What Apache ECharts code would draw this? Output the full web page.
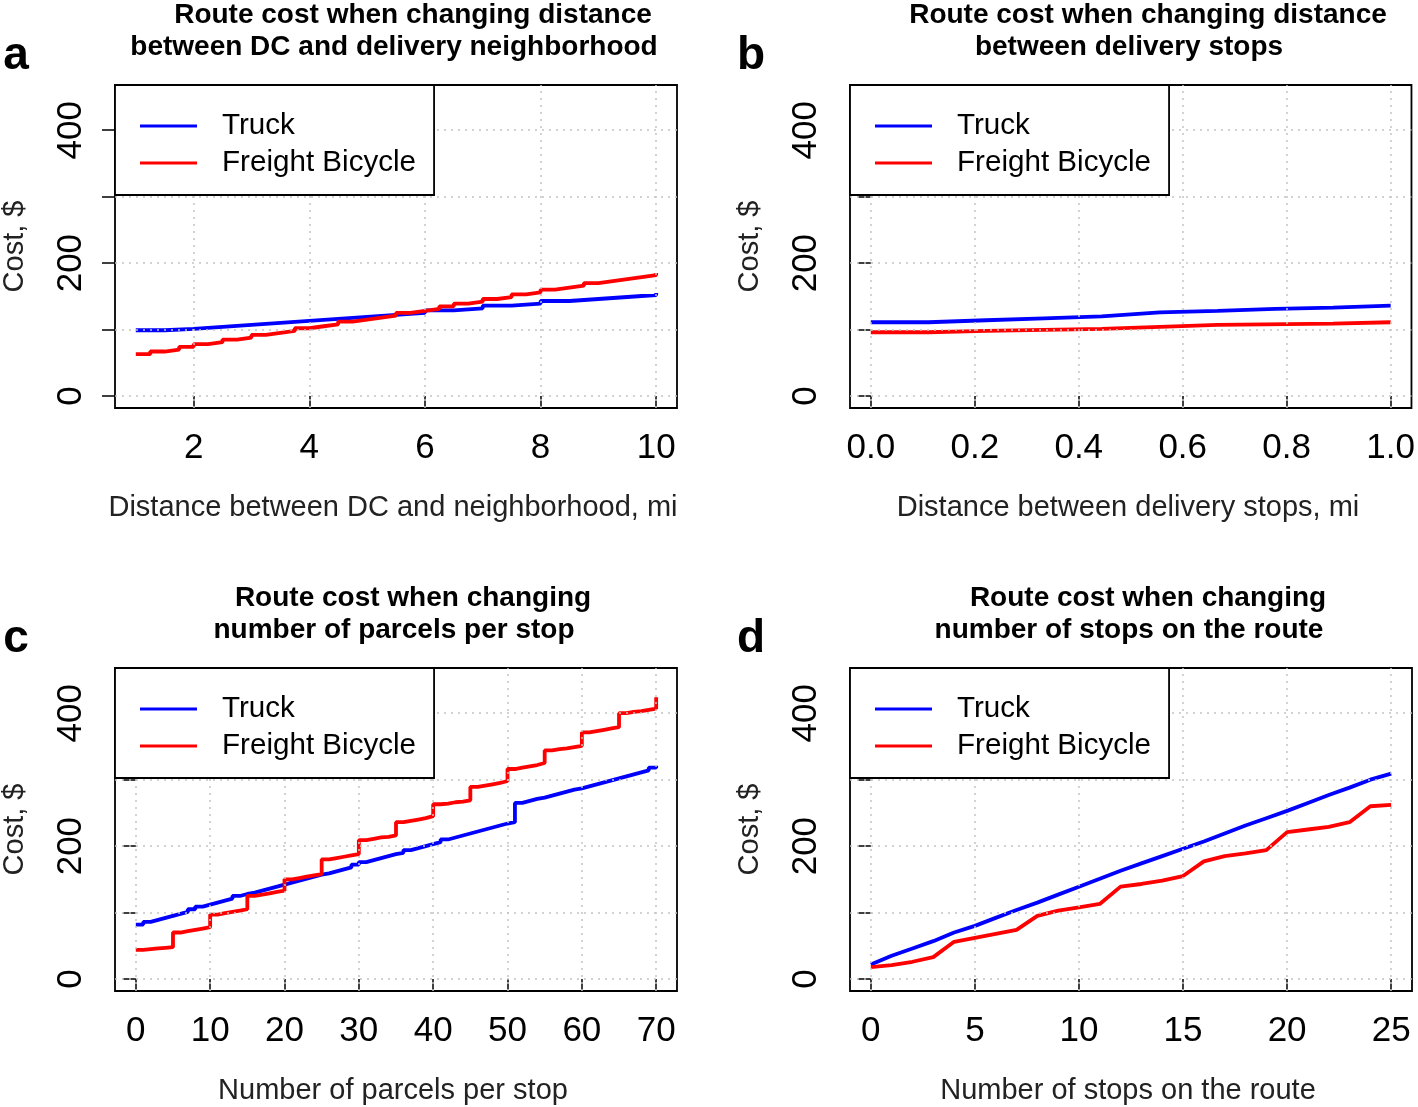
<!DOCTYPE html>
<html><head><meta charset="utf-8">
<script src="https://cdn.jsdelivr.net/npm/echarts@6/dist/echarts.min.js"></script>
<style>html,body{margin:0;padding:0;background:#fff}#c{width:1418px;height:1107px}</style>
</head><body><div id="c"></div>
<script>
// ---------- DATA ----------
const seriesNames = ['Truck', 'Freight Bicycle'];
// Panel a: distance between DC and neighborhood (mi)
const aTruckX = [1,1.5,2,2.5,3,3.5,4,4.5,5,5.5,6,6.5,7,7.5,8,8.5,9,9.5,10];
const aTruckY = [99,101,104,107,110,113,116,119,122,125,129,132,136,139,143,146,149,152,155];
const aBikeX = [1,1.25,1.5,1.75,2,2.25,2.5,2.75,3,3.25,3.5,3.75,4,4.25,4.5,4.75,5,5.25,5.5,5.75,6,6.25,6.5,6.75,7,7.25,7.5,7.75,8,8.25,8.5,8.75,9,9.25,9.5,9.75,10];
const aBikeY = [63,67,70,74,78,81,85,88,92,95,98,102,105,108,112,115,118,121,125,128,131,135,139,142,146,149,153,156,160,163,166,170,173,176,179,182,185];
// Panel b: distance between delivery stops (mi)
const bTruckX = [0,0.111,0.222,0.333,0.444,0.5,0.556,0.667,0.778,0.889,1];
const bTruckY = [111,114,117,120,123,126,128,131,133,136,136];
const bBikeX = [0,0.111,0.222,0.444,0.556,0.667,0.889,1];
const bBikeY = [96,98,101,104,107,109,111,111];
// Panel c: number of parcels per stop
const cX = [0,1,2,3,4,5,6,7,8,9,10,11,12,13,14,15,16,17,18,19,20,21,22,23,24,25,26,27,28,29,30,31,32,33,34,35,36,37,38,39,40,41,42,43,44,45,46,47,48,49,50,51,52,53,54,55,56,57,58,59,60,61,62,63,64,65,66,67,68,69,70];
const cTruckY = [82,86,89,92,95,98,101,105,109,112,115,118,121,125,128,130,133,136,139,142,145,148,151,154,157,159,162,165,168,172,176,179,182,185,188,190,194,197,200,203,206,210,213,216,219,222,225,228,231,234,236,265,268,271,273,276,279,282,285,287,290,293,296,299,302,305,308,311,314,318,321];
const cBikeY = [44,45,46,47,48,70,72,74,76,78,97,99,101,103,105,125,127,129,131,133,150,152,154,156,158,180,182,184,186,188,209,211,213,214,216,236,238,240,242,245,263,264,266,267,269,289,291,293,295,298,316,318,320,322,325,344,346,347,349,351,371,373,375,377,379,400,402,403,405,407,424];
// Panel d: number of stops on the route
const dX = [0,1,2,3,4,5,6,7,8,9,10,11,12,13,14,15,16,17,18,19,20,21,22,23,24,25];
const dTruckY = [22,35,46,57,70,80,92,104,115,127,139,151,163,174,185,196,207,219,231,242,253,265,277,288,300,309];
const dBikeY = [18,21,26,33,56,62,68,74,95,103,108,113,139,143,148,155,177,185,189,194,221,225,229,236,260,262];
// Tick values
const aXTicks = [2,4,6,8,10];
const bXTicks = [0,0.2,0.4,0.6,0.8,1.0];
const cXTicks = [0,10,20,30,40,50,60,70];
const dXTicks = [0,5,10,15,20,25];
const yTicks = [0,100,200,300,400];
const yLabels = [0,200,400];
// Texts
const titlesLine1 = ['Route cost when changing distance','Route cost when changing distance','Route cost when changing','Route cost when changing'];
const titlesLine2 = ['between DC and delivery neighborhood','between delivery stops','number of parcels per stop','number of stops on the route'];
const xTitles = ['Distance between DC and neighborhood, mi','Distance between delivery stops, mi','Number of parcels per stop','Number of stops on the route'];
const yTitle = 'Cost, $';
const panelLetters = ['a','b','c','d'];

// ---------- LAYOUT ----------
const FONT = "'Liberation Sans', Arial, Helvetica, sans-serif";
const panels = [
  {left:115, top:85, xmin:0.64, xmax:10.36, ticks:aXTicks, fmt:v=>String(v), step:'end',
   truck:aTruckX.map((x,i)=>[x,aTruckY[i]]), bike:aBikeX.map((x,i)=>[x,aBikeY[i]])},
  {left:850, top:85, xmin:-0.04, xmax:1.04, ticks:bXTicks, fmt:v=>v.toFixed(1), step:'end',
   truck:bTruckX.map((x,i)=>[x,bTruckY[i]]), bike:bBikeX.map((x,i)=>[x,bBikeY[i]])},
  {left:115, top:668, xmin:-2.8, xmax:72.8, ticks:cXTicks, fmt:v=>String(v), step:'end',
   truck:cX.map((x,i)=>[x,cTruckY[i]]), bike:cX.map((x,i)=>[x,cBikeY[i]])},
  {left:850, top:668, xmin:-1, xmax:26, ticks:dXTicks, fmt:v=>String(v), step:false,
   truck:dX.map((x,i)=>[x,dTruckY[i]]), bike:dX.map((x,i)=>[x,dBikeY[i]])}
];
const W = 562, H = 323;

const grid = [], xAxis = [], yAxis = [], series = [], legend = [], graphic = [];
panels.forEach((p, k) => {
  grid.push({left:p.left, top:p.top, width:W, height:H, show:true, borderColor:'#000', borderWidth:1.8, backgroundColor:'transparent', containLabel:false});
  xAxis.push({type:'value', gridIndex:k, min:p.xmin, max:p.xmax,
    axisLine:{show:false},
    axisTick:{show:true, inside:false, length:13, lineStyle:{color:'#000', width:1.5}, customValues:p.ticks},
    axisLabel:{customValues:p.ticks, formatter:p.fmt, fontSize:35, color:'#000', margin:23, fontFamily:FONT},
    splitLine:{show:false}});
  yAxis.push({type:'value', gridIndex:k, min:-18, max:468,
    axisLine:{show:false},
    axisTick:{show:true, inside:false, length:13, lineStyle:{color:'#000', width:1.5}, customValues:yTicks},
    axisLabel:{customValues:yLabels, rotate:90, fontSize:35, color:'#000', margin:26, fontFamily:FONT},
    splitLine:{show:false}});
  const gridLines = p.ticks.map(v=>({xAxis:v})).concat(yTicks.map(v=>({yAxis:v})));
  series.push({name:seriesNames[0], type:'line', xAxisIndex:k, yAxisIndex:k, data:p.truck, step:p.step,
    symbol:'none', color:'#0000ff', lineStyle:{color:'#0000ff', width:3.8}, z:2,
    markLine:{silent:true, symbol:'none', label:{show:false}, animation:false, z:5,
      lineStyle:{color:'#c4c4c4', width:1.5, type:[2,5]}, data:gridLines}});
  series.push({name:seriesNames[1], type:'line', xAxisIndex:k, yAxisIndex:k, data:p.bike, step:p.step,
    symbol:'none', color:'#ff0000', lineStyle:{color:'#ff0000', width:3.8}, z:2});
  legend.push({left:p.left, top:p.top, orient:'vertical', data:seriesNames, icon:'rect',
    itemWidth:57, itemHeight:3, itemGap:7, padding:[26,18,17,25], borderColor:'#000', borderWidth:1.8,
    backgroundColor:'#fff', selectedMode:false, z:10,
    textStyle:{fontSize:29.6, fontFamily:FONT, color:'#000', lineHeight:30, padding:[0,0,0,20]}});
  const cx = p.left + W/2;
  graphic.push({type:'text', x:cx+17, y:p.top-70, style:{text:titlesLine1[k], font:'bold 28px '+FONT, fill:'#000', textAlign:'center', textVerticalAlign:'middle'}});
  graphic.push({type:'text', x:cx-2, y:p.top-38, style:{text:titlesLine2[k], font:'bold 28px '+FONT, fill:'#000', textAlign:'center', textVerticalAlign:'middle'}});
  graphic.push({type:'text', x:p.left-99, y:p.top-29, style:{text:panelLetters[k], font:'bold 46px '+FONT, fill:'#000', textAlign:'center', textVerticalAlign:'middle'}});
  graphic.push({type:'text', x:cx-3, y:p.top+423, style:{text:xTitles[k], font:'29px '+FONT, fill:'#222', textAlign:'center', textVerticalAlign:'middle'}});
  graphic.push({type:'text', x:p.left-100, y:p.top+H/2, rotation:Math.PI/2, style:{text:yTitle, font:'29px '+FONT, fill:'#222', textAlign:'center', textVerticalAlign:'middle'}});
});

const chart = echarts.init(document.getElementById('c'), null, {renderer:'canvas'});
chart.setOption({animation:false, backgroundColor:'#fff', grid, xAxis, yAxis, series, legend, graphic});
</script></body></html>
